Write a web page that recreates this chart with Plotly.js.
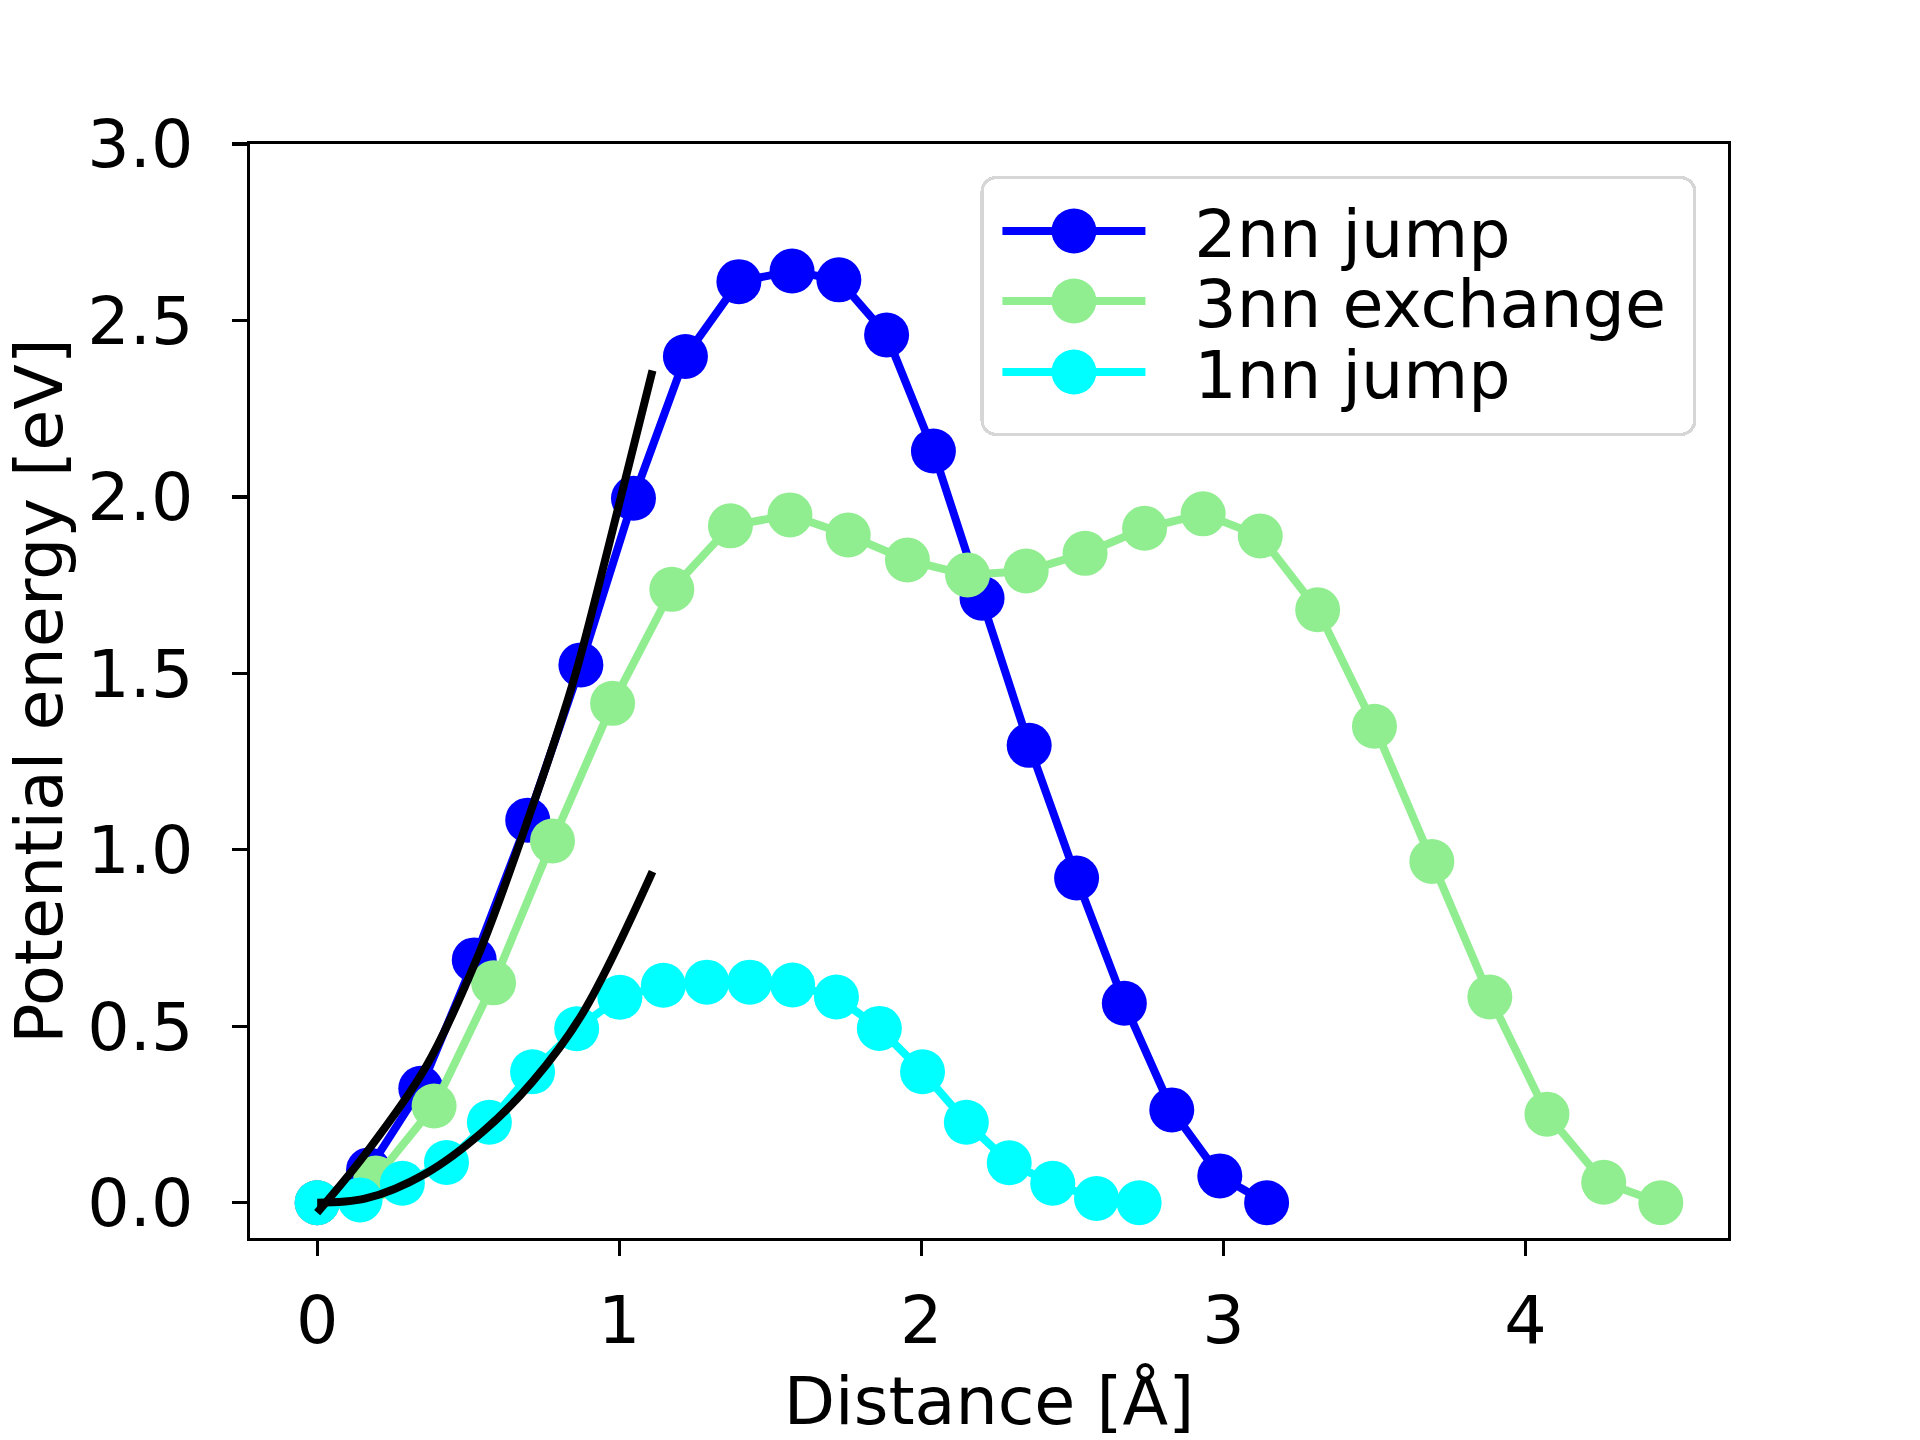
<!DOCTYPE html>
<html>
<head>
<meta charset="utf-8">
<script src="https://cdn.plot.ly/plotly-3.0.1.min.js"></script>
<style>
  html, body { margin: 0; padding: 0; background: #ffffff; }
  #chart { width: 1920px; height: 1440px; }
</style>
</head>
<body>
<div id="chart"></div>
<script>
// ---------------- data ----------------
const seriesNames = ['2nn jump', '3nn exchange', '1nn jump'];

const jump2nnDistance = [0, 0.17, 0.343, 0.52, 0.697, 0.873, 1.047, 1.219, 1.396, 1.572,
                         1.727, 1.885, 2.04, 2.201, 2.357, 2.514, 2.672, 2.829, 2.988, 3.143];
const jump2nnEnergy   = [0, 0.093, 0.324, 0.688, 1.084, 1.524, 1.996, 2.398, 2.61, 2.64,
                         2.615, 2.459, 2.13, 1.713, 1.296, 0.92, 0.565, 0.263, 0.076, 0];

const exch3nnDistance = [0, 0.194, 0.387, 0.584, 0.779, 0.978, 1.174, 1.368, 1.565, 1.758,
                         1.954, 2.153, 2.347, 2.542, 2.739, 2.933, 3.122, 3.312, 3.5, 3.69,
                         3.882, 4.071, 4.259, 4.448];
const exch3nnEnergy   = [0, 0.07, 0.274, 0.623, 1.025, 1.415, 1.738, 1.918, 1.949, 1.892,
                         1.821, 1.779, 1.79, 1.84, 1.911, 1.952, 1.889, 1.68, 1.35, 0.967,
                         0.583, 0.251, 0.058, 0];

const jump1nnDistance = [0, 0.142, 0.282, 0.428, 0.57, 0.713, 0.859, 1.002, 1.146, 1.29,
                         1.432, 1.574, 1.719, 1.861, 2.004, 2.149, 2.291, 2.435, 2.58, 2.721];
const jump1nnEnergy   = [0, 0.008, 0.055, 0.114, 0.228, 0.371, 0.493, 0.582, 0.616, 0.625,
                         0.625, 0.617, 0.583, 0.494, 0.371, 0.228, 0.113, 0.055, 0.012, 0];

// black fit curves
const fit2nnDistance = [0, 0.161, 0.36, 0.536, 0.72, 0.812, 0.865, 1.017, 1.11];
const fit2nnEnergy   = [-0.028, 0.14, 0.385, 0.707, 1.141, 1.377, 1.528, 2.039, 2.358];
const fit1nnDistance = [0, 0.161, 0.36, 0.548, 0.713, 0.879, 1.11];
const fit1nnEnergy   = [0, 0.012, 0.083, 0.201, 0.343, 0.537, 0.938];

const xTickValues = [0, 1, 2, 3, 4];
const yTickValues = [0, 0.5, 1.0, 1.5, 2.0, 2.5, 3.0];

// ---------------- styling ----------------
const FONT = 'DejaVu Sans';
const FS = 66.7;
const colors = ['#0000ff', '#90ee90', '#00ffff'];
const LW = 8;
const MS = 45;

function dataSeries(name, x, y, color) {
  return {
    type: 'scatter', mode: 'lines+markers', name: name, x: x, y: y,
    line: { color: color, width: LW },
    marker: { color: color, size: MS, line: { width: 0 } },
    hoverinfo: 'skip'
  };
}
function fitCurve(x, y) {
  return {
    type: 'scatter', mode: 'lines', x: x, y: y, showlegend: false,
    line: { color: '#000000', width: LW, shape: 'spline', smoothing: 1 },
    hoverinfo: 'skip'
  };
}

const traces = [
  dataSeries(seriesNames[0], jump2nnDistance, jump2nnEnergy, colors[0]),
  dataSeries(seriesNames[1], exch3nnDistance, exch3nnEnergy, colors[1]),
  dataSeries(seriesNames[2], jump1nnDistance, jump1nnEnergy, colors[2]),
  fitCurve(fit2nnDistance, fit2nnEnergy),
  fitCurve(fit1nnDistance, fit1nnEnergy)
];

const axisCommon = {
  showgrid: false, zeroline: false, showline: true, mirror: true,
  linecolor: '#000000', linewidth: 3.3,
  ticks: 'outside', ticklen: 15, tickwidth: 3.3, tickcolor: '#000000',
  tickfont: { family: FONT, size: FS, color: '#000000' },
  automargin: false
};

const layout = {
  width: 1920, height: 1440,
  margin: { l: 250, r: 192, t: 144, b: 202, pad: 0 },
  paper_bgcolor: '#ffffff', plot_bgcolor: '#ffffff',
  font: { family: FONT, size: FS, color: '#000000' },
  xaxis: Object.assign({}, axisCommon, {
    range: [-0.2224, 4.6704],
    tickmode: 'array', tickvals: xTickValues,
    ticktext: xTickValues.map(v => String(v)),
    ticklabelstandoff: 7,
    title: { text: 'Distance [Å]', font: { family: FONT, size: FS, color: '#000000' }, standoff: 26 }
  }),
  yaxis: Object.assign({}, axisCommon, {
    range: [-0.1, 3.0],
    tickmode: 'array', tickvals: yTickValues,
    ticktext: yTickValues.map(v => v.toFixed(1)),
    ticklabelstandoff: 25,
    title: { text: 'Potential energy [eV]', font: { family: FONT, size: FS, color: '#000000' }, standoff: 14 }
  }),
  showlegend: true,
  legend: {
    x: 0.4942, y: 0.97075, xanchor: 'left', yanchor: 'top',
    bgcolor: '#ffffff', bordercolor: '#d6d6d6', borderwidth: 3.3,
    font: { family: FONT, size: FS, color: '#000000' },
    itemwidth: 198, tracegroupgap: 0, traceorder: 'normal'
  }
};

function circlePath(r) {
  return 'M' + r + ',0A' + r + ',' + r + ' 0 1,1 0,-' + r + 'A' + r + ',' + r + ' 0 0,1 ' + r + ',0Z';
}

function tuneLegend(gd) {
  const leg = gd.querySelector('g.legend');
  if (!leg) return;
  const bw = 3.3;
  const bg = leg.querySelector('rect.bg');
  if (bg) {
    bg.setAttribute('x', bw / 2); bg.setAttribute('y', bw / 2);
    bg.setAttribute('width', 716 - bw); bg.setAttribute('height', 260 - bw);
    bg.setAttribute('rx', 14); bg.setAttribute('ry', 14);
  }
  const rows = [55, 125, 196];
  leg.querySelectorAll('g.traces').forEach(function (g, i) {
    g.setAttribute('transform', 'translate(' + bw + ',' + rows[i] + ')');
    g.querySelectorAll('.legendlines path').forEach(function (p) {
      p.setAttribute('d', 'M18.7,0h143');
      p.style.strokeWidth = LW + 'px';
    });
    g.querySelectorAll('.legendpoints path').forEach(function (p) {
      p.setAttribute('d', circlePath(MS / 2));
      p.setAttribute('transform', 'translate(90.2,0)');
    });
    const txt = g.querySelector('text.legendtext');
    if (txt) {
      const x0 = parseFloat(txt.getAttribute('x')) || 208;
      txt.setAttribute('x', x0 + 2.5);
    }
  });
}

Plotly.newPlot('chart', traces, layout, { displayModeBar: false, staticPlot: true })
  .then(function (gd) { tuneLegend(gd); });
</script>
</body>
</html>
